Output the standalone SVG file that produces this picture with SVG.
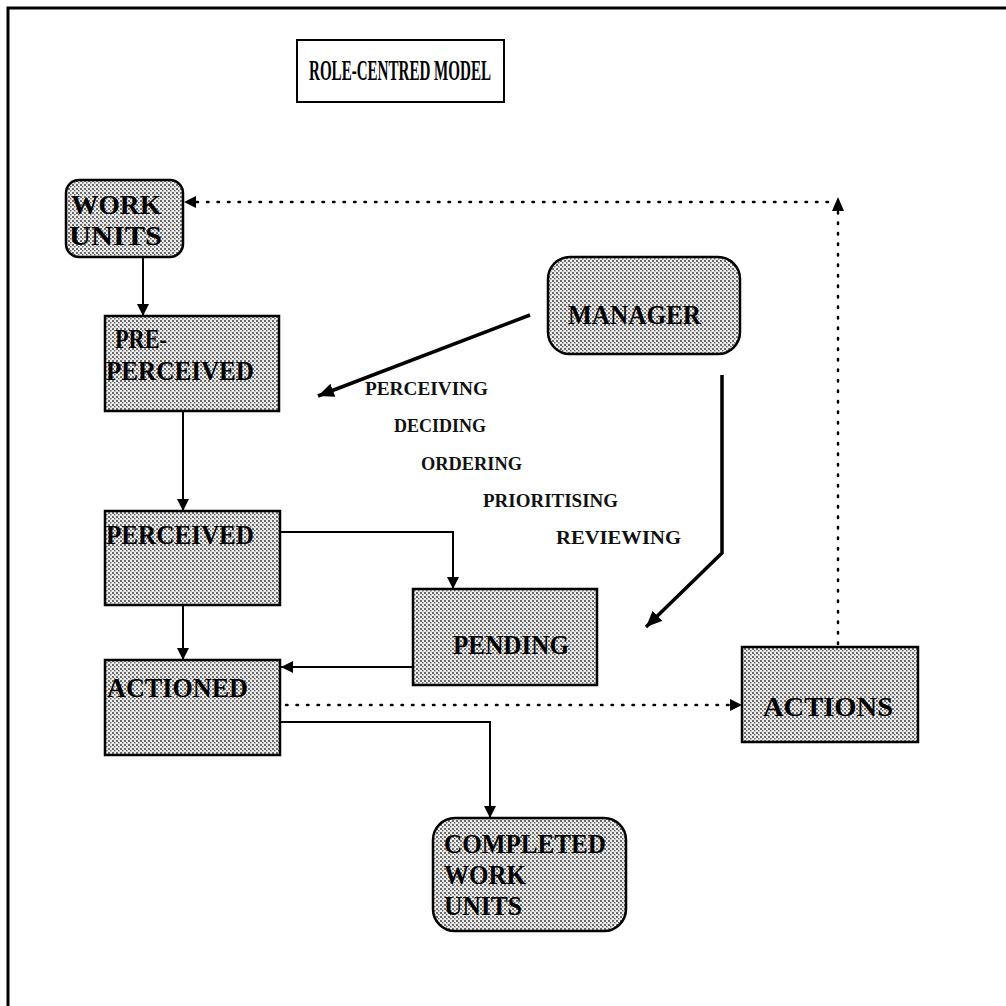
<svg xmlns="http://www.w3.org/2000/svg" width="1006" height="1006" viewBox="0 0 1006 1006">
<style>
.node{stroke:#000;stroke-width:2.5;fill:url(#stip)}
.t{font-family:"Liberation Serif","Times New Roman",serif;font-size:28px;font-weight:bold;fill:#000}
.lbl{font-family:"Liberation Serif","Times New Roman",serif;font-size:19px;font-weight:bold;fill:#111}
.c{fill:none;stroke:#000;stroke-width:2}
.thick{fill:none;stroke:#000;stroke-width:3.5}
.dot{fill:none;stroke:#000;stroke-width:2.5;stroke-dasharray:1.5 9;stroke-linecap:round}
</style>
<defs>
<pattern id="stip" width="4" height="4" patternUnits="userSpaceOnUse">
<rect width="4" height="4" fill="#f0f0f0"/>
<rect x="0" y="0" width="2" height="2" fill="#6a6a6a"/>
<rect x="2" y="2" width="1.5" height="1.5" fill="#6a6a6a"/>
</pattern>
<marker id="ah" markerWidth="12" markerHeight="12" viewBox="0 0 12 12" refX="12" refY="6" orient="auto" markerUnits="userSpaceOnUse">
<path d="M0,0 L12,6 L0,12 Z" fill="#000"/>
</marker>
<marker id="ahb" markerWidth="16" markerHeight="14" viewBox="0 0 16 14" refX="16" refY="7" orient="auto" markerUnits="userSpaceOnUse">
<path d="M0,0 L16,7 L0,14 Z" fill="#000"/>
</marker>
</defs>
<rect width="1006" height="1006" fill="#fff"/>
<path d="M8,1006 V8 H1006" fill="none" stroke="#000" stroke-width="3"/>

<g id="title">
<rect x="297" y="40" width="207" height="62" fill="#fff" stroke="#000" stroke-width="2"/>
<text x="400" y="80" text-anchor="middle" font-family="Liberation Serif, serif" font-size="29" font-weight="bold" textLength="182" lengthAdjust="spacingAndGlyphs">ROLE-CENTRED MODEL</text>
</g>

<g id="connectors">
<path class="c" d="M143,257 V316" marker-end="url(#ah)"/>
<path class="c" d="M183,411 V511" marker-end="url(#ah)"/>
<path class="c" d="M280,532 H453 V589" marker-end="url(#ah)"/>
<path class="c" d="M183,605 V660" marker-end="url(#ah)"/>
<path class="c" d="M413,667 H281" marker-end="url(#ah)"/>
<path class="c" d="M280,722 H490 V818" marker-end="url(#ah)"/>
<path class="thick" d="M530,315 L318,396" marker-end="url(#ahb)"/>
<path class="thick" d="M722,375 V553 L646,627" marker-end="url(#ahb)"/>
<path class="dot" d="M286,705 H730"/>
<path d="M730,699 L742,705 L730,711 Z" fill="#000"/>
<path class="dot" d="M838,644 V212"/>
<path d="M832,211 L838,197 L844,211 Z" fill="#000"/>
<path class="dot" d="M828,202 H196"/>
<path d="M196,196 L184,202 L196,208 Z" fill="#000"/>
</g>

<g id="work-units">
<rect class="node" x="66" y="180" width="117" height="77" rx="13"/>
<text class="t" x="71" y="214" textLength="90" lengthAdjust="spacingAndGlyphs">WORK</text>
<text class="t" x="69" y="245" textLength="93" lengthAdjust="spacingAndGlyphs">UNITS</text>
</g>
<g id="pre-perceived">
<rect class="node" x="105" y="316" width="174" height="95"/>
<text class="t" x="115" y="348" textLength="52" lengthAdjust="spacingAndGlyphs">PRE-</text>
<text class="t" x="106" y="380" textLength="148" lengthAdjust="spacingAndGlyphs">PERCEIVED</text>
</g>
<g id="manager">
<rect class="node" x="548" y="257" width="192" height="97" rx="22"/>
<text class="t" x="568" y="324" textLength="133" lengthAdjust="spacingAndGlyphs">MANAGER</text>
</g>
<g id="perceived">
<rect class="node" x="105" y="511" width="175" height="94"/>
<text class="t" x="106" y="544" textLength="148" lengthAdjust="spacingAndGlyphs">PERCEIVED</text>
</g>
<g id="pending">
<rect class="node" x="413" y="589" width="184" height="96"/>
<text class="t" x="453" y="654" textLength="116" lengthAdjust="spacingAndGlyphs">PENDING</text>
</g>
<g id="actioned">
<rect class="node" x="105" y="660" width="175" height="95"/>
<text class="t" x="107" y="697" textLength="141" lengthAdjust="spacingAndGlyphs">ACTIONED</text>
</g>
<g id="actions">
<rect class="node" x="742" y="647" width="176" height="95"/>
<text class="t" x="763" y="716" textLength="130" lengthAdjust="spacingAndGlyphs">ACTIONS</text>
</g>
<g id="completed">
<rect class="node" x="433" y="818" width="193" height="113" rx="22"/>
<text class="t" x="444" y="853" textLength="162" lengthAdjust="spacingAndGlyphs">COMPLETED</text>
<text class="t" x="444" y="884" textLength="82" lengthAdjust="spacingAndGlyphs">WORK</text>
<text class="t" x="444" y="915" textLength="78" lengthAdjust="spacingAndGlyphs">UNITS</text>
</g>

<g id="labels">
<text class="lbl" x="365" y="395" textLength="123" lengthAdjust="spacingAndGlyphs">PERCEIVING</text>
<text class="lbl" x="394" y="432" textLength="92" lengthAdjust="spacingAndGlyphs">DECIDING</text>
<text class="lbl" x="421" y="470" textLength="101" lengthAdjust="spacingAndGlyphs">ORDERING</text>
<text class="lbl" x="483" y="507" textLength="135" lengthAdjust="spacingAndGlyphs">PRIORITISING</text>
<text class="lbl" x="556" y="544" textLength="125" lengthAdjust="spacingAndGlyphs">REVIEWING</text>
</g>
</svg>
